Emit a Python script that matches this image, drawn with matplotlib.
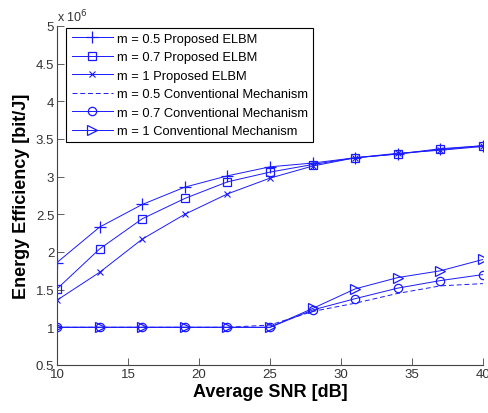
import matplotlib
matplotlib.use("Agg")
import matplotlib.pyplot as plt

snr = [10, 13, 16, 19, 22, 25, 28, 31, 34, 37, 40]

# Energy efficiency in units of 1e6 bit/J
prop_m05 = [1.86, 2.33, 2.63, 2.86, 3.01, 3.13, 3.18, 3.25, 3.30, 3.37, 3.41]
prop_m07 = [1.51, 2.04, 2.44, 2.71, 2.93, 3.06, 3.16, 3.25, 3.30, 3.36, 3.41]
prop_m1 = [1.36, 1.73, 2.17, 2.50, 2.77, 2.98, 3.14, 3.25, 3.31, 3.35, 3.40]
conv_m05 = [1.00, 1.00, 1.00, 1.00, 1.00, 1.03, 1.21, 1.32, 1.45, 1.55, 1.58]
conv_m07 = [1.00, 1.00, 1.00, 1.00, 1.00, 1.00, 1.23, 1.38, 1.52, 1.62, 1.70]
conv_m1 = [1.00, 1.00, 1.00, 1.00, 1.00, 1.00, 1.25, 1.51, 1.66, 1.75, 1.90]

labels = [
    "m = 0.5 Proposed ELBM",
    "m = 0.7 Proposed ELBM",
    "m = 1 Proposed ELBM",
    "m = 0.5 Conventional Mechanism",
    "m = 0.7 Conventional Mechanism",
    "m = 1 Conventional Mechanism",
]
xticks = [10, 15, 20, 25, 30, 35, 40]
yticks = [0.5, 1, 1.5, 2, 2.5, 3, 3.5, 4, 4.5, 5]
ytick_labels = ["0.5", "1", "1.5", "2", "2.5", "3", "3.5", "4", "4.5", "5"]

plt.rcParams['font.family'] = ['Liberation Sans', 'DejaVu Sans']

fig = plt.figure(figsize=(4.89, 4.14), dpi=100)
ax = fig.add_axes([0.1166, 0.116, 0.8711, 0.819])

blue = '#1a1aff'
lw = 0.7
ms = 6
ax.plot(snr, prop_m05, color=blue, lw=lw, marker='+', ms=ms + 2, mew=0.9, label=labels[0])
ax.plot(snr, prop_m07, color=blue, lw=lw, marker='s', ms=ms, mfc='none', mew=0.9, label=labels[1])
ax.plot(snr, prop_m1, color=blue, lw=lw, marker='x', ms=ms - 1, mew=0.8, label=labels[2])
ax.plot(snr, conv_m05, color=blue, lw=lw, ls=(0, (5, 3)), label=labels[3])
ax.plot(snr, conv_m07, color=blue, lw=lw, marker='o', ms=ms, mfc='none', mew=0.9, label=labels[4])
ax.plot(snr, conv_m1, color=blue, lw=lw, marker='>', ms=ms + 1, mfc='none', mew=0.9, label=labels[5])

ax.set_xlim(10, 40)
ax.set_ylim(0.5, 5)
ax.set_xticks(xticks)
ax.set_xticklabels([str(t) for t in xticks])
ax.set_yticks(yticks)
ax.set_yticklabels(ytick_labels)

ax.spines['top'].set_visible(False)
ax.spines['right'].set_visible(False)
for s in ('left', 'bottom'):
    ax.spines[s].set_color('#444444')
    ax.spines[s].set_linewidth(0.8)
ax.tick_params(direction='in', length=5, width=0.6, colors='#444444',
               labelcolor='#333333', labelsize=9.5, pad=2)

ax.set_xlabel("Average SNR [dB]", fontsize=13, fontweight='bold', labelpad=2)
ax.set_ylabel("Energy Efficiency [bit/J]", fontsize=13, fontweight='bold', labelpad=4)

ax.text(0.0, 1.005, "x 10$^6$", transform=ax.transAxes, fontsize=9, color='#333333',
        ha='left', va='bottom')

leg = ax.legend(loc='upper left', bbox_to_anchor=(0.022, 0.995), fontsize=9.3,
                frameon=True, fancybox=False, edgecolor='black', framealpha=1,
                handlelength=3.2, labelspacing=0.5, borderpad=0.4,
                handletextpad=0.3, borderaxespad=0)
leg.get_frame().set_linewidth(0.8)

fig.savefig("out.png", dpi=100)
